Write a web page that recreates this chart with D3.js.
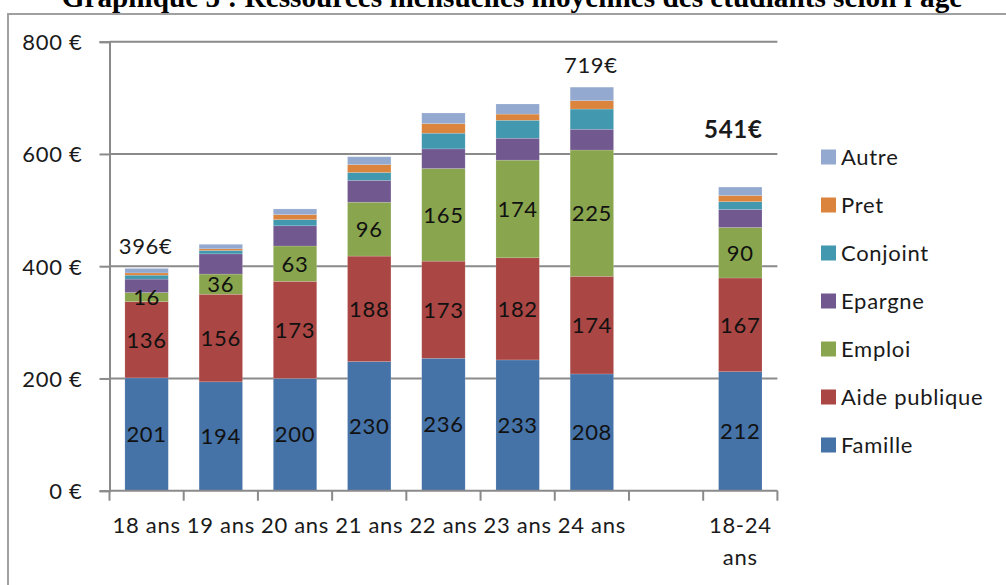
<!DOCTYPE html>
<html>
<head>
<meta charset="utf-8">
<script src="https://cdn.jsdelivr.net/npm/d3@7"></script>
<style>
  html, body { margin: 0; padding: 0; background: #fff; }
  svg { display: block; }
</style>
</head>
<body>
<svg id="chart" width="1006" height="585"></svg>
<script>
// ---- data ----
const categories = ["18 ans", "19 ans", "20 ans", "21 ans", "22 ans", "23 ans", "24 ans", "", "18-24 ans"];
const seriesNames = ["Famille", "Aide publique", "Emploi", "Epargne", "Conjoint", "Pret", "Autre"];
const famille  = [201, 194, 200, 230, 236, 233, 208, 0, 212];
const aide     = [136, 156, 173, 188, 173, 182, 174, 0, 167];
const emploi   = [16, 36, 63, 96, 165, 174, 225, 0, 90];
const epargne  = [24, 36, 36, 39, 35, 39, 37, 0, 32];
const conjoint = [7, 6, 11, 14, 28, 32, 36, 0, 14];
const pret     = [4, 3, 9, 14, 17, 11, 15, 0, 11];
const autre    = [8, 8, 10, 14, 19, 18, 24, 0, 15];
const labelledSeries = ["Famille", "Aide publique", "Emploi"];
const totalLabels = [
  { cat: "18 ans", text: "396€", bold: false },
  { cat: "24 ans", text: "719€", bold: false },
  { cat: "18-24 ans", text: "541€", bold: true }
];
const yTicks = [0, 200, 400, 600, 800];
const titleText = "Graphique 5 : Ressources mensuelles moyennes des étudiants selon l'âge";

// ---- styles ----
const colors = {
  "Famille": "#4572A7",
  "Aide publique": "#AA4643",
  "Emploi": "#89A54E",
  "Epargne": "#71588F",
  "Conjoint": "#4198AF",
  "Pret": "#DB843D",
  "Autre": "#93A9CF"
};
const FONT = "Lato, 'Open Sans', sans-serif";
const FS = 22;
const LS = 0.7;
const svg = d3.select("#chart");

const values = [famille, aide, emploi, epargne, conjoint, pret, autre];
const table = categories.map((c, i) => {
  const row = { cat: c };
  seriesNames.forEach((s, k) => row[s] = values[k][i]);
  return row;
});

const pLeft = 109.5, pRight = 777.4, pTop = 41.7, pBottom = 490.7;

const x = d3.scaleBand().domain(categories).range([pLeft, pRight])
  .paddingInner(0.415).paddingOuter(0.2075);
const y = d3.scaleLinear().domain([0, 800]).range([pBottom, pTop]);

// outer border
svg.append("rect").attr("x", 8).attr("y", 14).attr("width", 1010).attr("height", 600)
  .attr("fill", "none").attr("stroke", "#a0a0a0").attr("stroke-width", 2);

// title (clipped at top, as in the source image)
const title = svg.append("text").attr("x", 512).attr("y", 7)
  .attr("text-anchor", "middle")
  .attr("font-family", "'Liberation Serif', 'Times New Roman', serif")
  .attr("font-weight", "bold").attr("font-size", 100).attr("fill", "#000")
  .text(titleText);
const tw = title.node().getComputedTextLength();
title.attr("font-size", 100 * 901 / tw);

// gridlines + y axis
const yAxis = d3.axisLeft(y).tickValues(yTicks).tickSize(10)
  .tickFormat(d => d + " €");
const yg = svg.append("g").attr("transform", `translate(${pLeft},0)`).call(yAxis);
yg.select(".domain").attr("stroke", "#8a8a8a").attr("stroke-width", 2);
yg.selectAll(".tick line").attr("stroke", "#8a8a8a").attr("stroke-width", 2);
yg.selectAll(".tick text").attr("font-family", FONT).attr("font-size", FS)
  .attr("letter-spacing", LS)
  .attr("fill", "#1a1a1a").attr("x", -27).attr("dy", "0.36em");
svg.append("g").selectAll("line").data(yTicks.filter(d => d > 0)).join("line")
  .attr("x1", pLeft).attr("x2", pRight)
  .attr("y1", d => y(d)).attr("y2", d => y(d))
  .attr("stroke", "#8a8a8a").attr("stroke-width", 2);

// stacked bars
const stack = d3.stack().keys(seriesNames);
const stacked = stack(table);
const layers = svg.append("g").selectAll("g").data(stacked).join("g")
  .attr("fill", d => colors[d.key]);
layers.selectAll("rect").data(d => d.filter(p => p.data.cat !== "")).join("rect")
  .attr("x", d => x(d.data.cat))
  .attr("width", x.bandwidth())
  .attr("y", d => y(d[1]))
  .attr("height", d => Math.max(0, y(d[0]) - y(d[1])))
  .attr("stroke", "rgba(255,255,255,0.25)").attr("stroke-width", 0.6);

// data labels in segments
stacked.filter(s => labelledSeries.includes(s.key)).forEach(s => {
  svg.append("g").selectAll("text").data(s.filter(p => p.data.cat !== "")).join("text")
    .attr("x", d => x(d.data.cat) + x.bandwidth() / 2)
    .attr("y", d => y((d[0] + d[1]) / 2))
    .attr("dy", "0.36em")
    .attr("text-anchor", "middle")
    .attr("font-family", FONT).attr("font-size", FS).attr("letter-spacing", LS)
    .attr("fill", "#111")
    .text(d => d[1] - d[0]);
});

// x axis
svg.append("line").attr("x1", pLeft).attr("x2", pRight).attr("y1", pBottom).attr("y2", pBottom)
  .attr("stroke", "#8a8a8a").attr("stroke-width", 2);
const boundaries = d3.range(categories.length + 1).map(i => pLeft + i * x.step());
svg.append("g").selectAll("line").data(boundaries).join("line")
  .attr("x1", d => d).attr("x2", d => d).attr("y1", pBottom).attr("y2", pBottom + 10)
  .attr("stroke", "#8a8a8a").attr("stroke-width", 2);
const xl = svg.append("g").selectAll("text").data(categories.filter(c => c !== "")).join("text")
  .attr("x", d => x(d) + x.bandwidth() / 2)
  .attr("y", 533)
  .attr("text-anchor", "middle")
  .attr("font-family", FONT).attr("font-size", FS).attr("letter-spacing", LS)
  .attr("fill", "#1a1a1a");
xl.each(function(d) {
  const t = d3.select(this);
  if (d === "18-24 ans") {
    t.append("tspan").attr("x", x(d) + x.bandwidth() / 2).text("18-24");
    t.append("tspan").attr("x", x(d) + x.bandwidth() / 2).attr("dy", 32).text("ans");
  } else {
    t.text(d);
  }
});

// total labels
const totalsByCat = {};
table.forEach(r => totalsByCat[r.cat] = d3.sum(seriesNames, s => r[s]));
svg.append("g").selectAll("text").data(totalLabels).join("text")
  .attr("x", d => x(d.cat) + x.bandwidth() / 2 + (d.bold ? -7 : -1))
  .attr("y", d => d.bold ? y(totalsByCat[d.cat]) - 49 : y(totalsByCat[d.cat]) - 14)
  .attr("text-anchor", "middle")
  .attr("font-family", FONT)
  .attr("font-size", d => d.bold ? 24 : FS)
  .attr("letter-spacing", LS)
  .attr("font-weight", d => d.bold ? "bold" : "normal")
  .attr("fill", "#1a1a1a")
  .text(d => d.text);

// legend
const legendOrder = seriesNames.slice().reverse();
const lg = svg.append("g").selectAll("g").data(legendOrder).join("g")
  .attr("transform", (d, i) => `translate(821, ${157 + i * 48})`);
lg.append("rect").attr("x", 0).attr("y", -7.5).attr("width", 15).attr("height", 15)
  .attr("fill", d => colors[d]);
lg.append("text").attr("x", 20).attr("y", 0).attr("dy", "0.36em")
  .attr("font-family", FONT).attr("font-size", FS).attr("letter-spacing", LS)
  .attr("fill", "#1a1a1a")
  .text(d => d);
</script>
</body>
</html>
